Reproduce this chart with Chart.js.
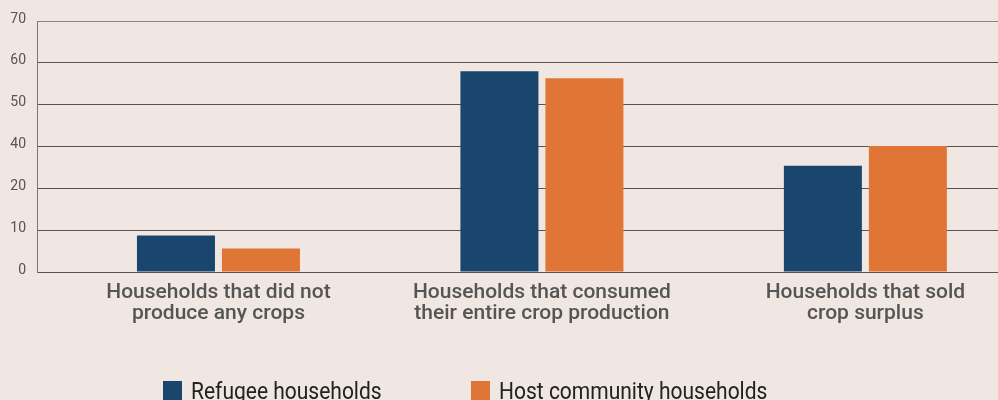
<!DOCTYPE html>
<html>
<head>
<meta charset="utf-8">
<script src="https://cdn.jsdelivr.net/npm/chart.js@4.4.1/dist/chart.umd.min.js"></script>
<style>
  html, body { margin: 0; padding: 0; background: #f0e6e2; overflow: hidden; }
  #wrap { position: relative; width: 998px; height: 400px; }
  #chart { position: absolute; left: 0; top: 0; }
  .legend-box { position: absolute; top: 381px; width: 19px; height: 20px; }
  .legend-text { position: absolute; top: 379px; white-space: nowrap;
    font-family: Roboto, "Noto Sans", sans-serif; font-size: 24px; color: #222; line-height: 1;
    transform: scaleX(0.875); transform-origin: left top; }
</style>
</head>
<body>
<div id="wrap">
  <canvas id="chart" width="998" height="400"></canvas>
  <div id="legend"></div>
</div>
<script>
/* ---------- Data ---------- */
const categories = [
  ["Households that did not", "produce any crops"],
  ["Households that consumed", "their entire crop production"],
  ["Households that sold", "crop surplus"]
];
const refugeeValues = [8.7, 48.0, 25.4];
const hostValues = [5.6, 46.3, 30.1];
const yTickLabels = ["0", "10", "20", "40", "50", "60", "70"];

const seriesNames = ["Refugee households", "Host community households"];
const seriesColors = ["#1a466e", "#e07636"];

/* ---------- Chart ---------- */
const toPoints = (values) => values.map((v, i) => ({ x: i, y: v }));

new Chart(document.getElementById("chart"), {
  type: "bar",
  data: {
    datasets: [
      {
        label: seriesNames[0],
        data: toPoints(refugeeValues),
        backgroundColor: seriesColors[0],
        barPercentage: 0.918,
        categoryPercentage: 0.5255
      },
      {
        label: seriesNames[1],
        data: toPoints(hostValues),
        backgroundColor: seriesColors[1],
        barPercentage: 0.918,
        categoryPercentage: 0.5255
      }
    ]
  },
  options: {
    responsive: false,
    animation: false,
    layout: { padding: { top: 21, left: 0, right: 0, bottom: 0 } },
    plugins: { legend: { display: false }, tooltip: { enabled: false } },
    scales: {
      x: {
        type: "linear",
        offset: false,
        min: -0.561,
        max: 2.41,
        afterBuildTicks: (scale) => {
          scale.ticks = categories.map((_, i) => ({ value: i }));
        },
        afterFit: (scale) => { scale.height = 128; },
        grid: { display: false, offset: false },
        border: { display: true, color: "#555", width: 1 },
        ticks: {
          autoSkip: false,
          maxRotation: 0,
          padding: 2,
          color: "#555",
          font: { family: "Roboto", size: 21, weight: "500", lineHeight: 1.0 },
          callback: (v) => categories[v] || ""
        }
      },
      y: {
        min: 0,
        max: 60,
        afterFit: (scale) => { scale.width = 37; },
        grid: {
          color: (ctx) => (ctx.index === yTickLabels.length - 1 ? "#8a8482" : "#555"),
          lineWidth: 1,
          drawTicks: false
        },
        border: { display: true, color: "#777", width: 1 },
        ticks: {
          stepSize: 10,
          padding: 11,
          labelOffset: -2,
          color: "#555",
          font: { family: "Roboto", size: 14 },
          callback: (v, i) => yTickLabels[i]
        }
      }
    }
  }
});

/* ---------- Legend ---------- */
const legendEl = document.getElementById("legend");
const legendLeft = [163, 471];
seriesNames.forEach((name, i) => {
  const box = document.createElement("div");
  box.className = "legend-box";
  box.style.left = legendLeft[i] + "px";
  box.style.background = seriesColors[i];
  const text = document.createElement("div");
  text.className = "legend-text";
  text.style.left = legendLeft[i] + 28 + "px";
  text.textContent = name;
  legendEl.appendChild(box);
  legendEl.appendChild(text);
});
</script>
</body>
</html>
